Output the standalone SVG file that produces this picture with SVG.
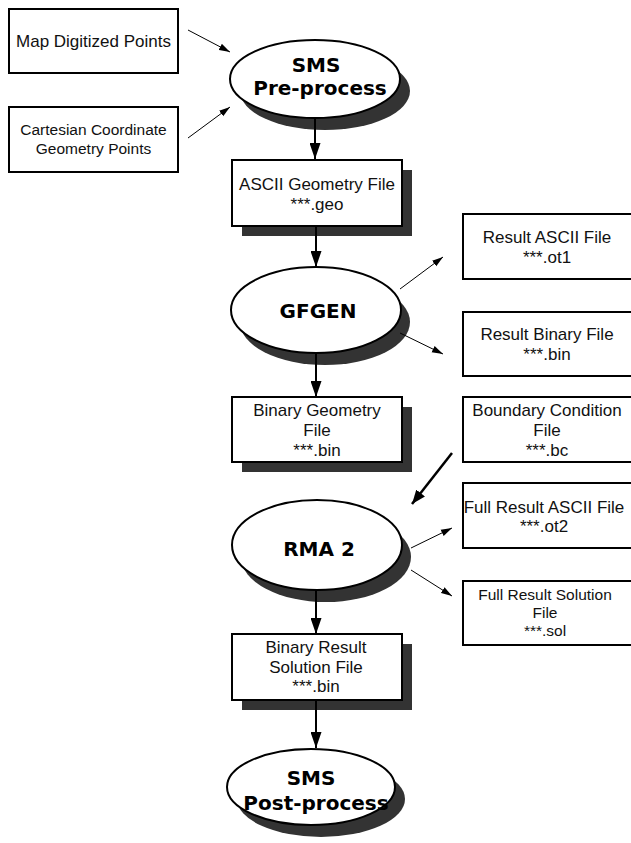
<svg xmlns="http://www.w3.org/2000/svg" width="631" height="843" viewBox="0 0 631 843">
<style>
.box{fill:#fff;stroke:#000;stroke-width:2}
.sh{fill:#333}
.el{fill:#fff;stroke:#000;stroke-width:2}
.t{font-family:"Liberation Sans",Arial,sans-serif;font-size:17px;fill:#111;text-anchor:middle}
.ts{font-size:15.5px}
.b{font-family:"DejaVu Sans","Liberation Sans",sans-serif;font-weight:bold;font-size:20px;fill:#000;text-anchor:middle}
.thin{stroke:#000;stroke-width:1;fill:none;marker-end:url(#ah)}
.v{stroke:#000;stroke-width:2;fill:none;marker-end:url(#av)}
.thick{stroke:#000;stroke-width:2.5;fill:none;marker-end:url(#at)}
</style>
<defs>
<marker id="ah" markerUnits="userSpaceOnUse" markerWidth="12" markerHeight="8" refX="11" refY="4" orient="auto"><path d="M0,0.5 L11,4 L0,7.5 Z" fill="#000"/></marker>
<marker id="av" markerUnits="userSpaceOnUse" markerWidth="17" markerHeight="11" refX="16" refY="5.5" orient="auto"><path d="M0,0 L16,5.5 L0,11 Z" fill="#000"/></marker>
<marker id="at" markerUnits="userSpaceOnUse" markerWidth="15" markerHeight="11" refX="14" refY="5.5" orient="auto"><path d="M0,0 L14,5.5 L0,11 Z" fill="#000"/></marker>
</defs>

<g id="map">
<rect class="box" x="9" y="9" width="169" height="64"/>
<text class="t" x="93.5" y="47">Map Digitized Points</text>
</g>
<g id="cartesian">
<rect class="box" x="9" y="107" width="169" height="65"/>
<text class="t ts" x="93.5" y="135">Cartesian Coordinate</text>
<text class="t ts" x="93.5" y="154">Geometry Points</text>
</g>
<g id="sms-pre">
<ellipse class="sh" cx="325" cy="91" rx="85" ry="39"/>
<ellipse class="el" cx="315" cy="79" rx="85" ry="39"/>
<text class="b" x="316" y="72">SMS</text>
<text class="b" x="320" y="95">Pre-process</text>
</g>
<g id="ascii-geo">
<rect class="sh" x="242" y="170" width="170" height="66"/>
<rect class="box" x="232" y="160" width="170" height="66"/>
<text class="t" x="317" y="190">ASCII Geometry File</text>
<text class="t" x="317" y="210">***.geo</text>
</g>
<g id="gfgen">
<ellipse class="sh" cx="325" cy="322" rx="85" ry="43"/>
<ellipse class="el" cx="316" cy="310" rx="85" ry="43"/>
<text class="b" x="318" y="318">GFGEN</text>
</g>
<g id="result-ascii">
<rect class="box" x="463" y="214" width="172" height="65"/>
<text class="t" x="547" y="243">Result ASCII File</text>
<text class="t" x="547" y="263">***.ot1</text>
</g>
<g id="result-binary">
<rect class="box" x="463" y="312" width="172" height="64"/>
<text class="t" x="547" y="340">Result Binary File</text>
<text class="t" x="547" y="360">***.bin</text>
</g>
<g id="binary-geo">
<rect class="sh" x="242" y="407" width="170" height="65"/>
<rect class="box" x="232" y="397" width="170" height="65"/>
<text class="t" x="317" y="416">Binary Geometry</text>
<text class="t" x="317" y="436">File</text>
<text class="t" x="317" y="456">***.bin</text>
</g>
<g id="boundary">
<rect class="box" x="463" y="397" width="172" height="65"/>
<text class="t" x="547" y="416">Boundary Condition</text>
<text class="t" x="547" y="436">File</text>
<text class="t" x="547" y="456">***.bc</text>
</g>
<g id="full-ascii">
<rect class="box" x="463" y="483" width="172" height="65"/>
<text class="t" x="544" y="513">Full Result ASCII File</text>
<text class="t" x="544" y="532">***.ot2</text>
</g>
<g id="rma2">
<ellipse class="sh" cx="326" cy="557" rx="85" ry="45"/>
<ellipse class="el" cx="317" cy="545" rx="85" ry="45"/>
<text class="b" x="319" y="556">RMA 2</text>
</g>
<g id="full-solution">
<rect class="box" x="463" y="581" width="172" height="64"/>
<text class="t ts" x="545" y="600">Full Result Solution</text>
<text class="t ts" x="545" y="618">File</text>
<text class="t ts" x="545" y="636">***.sol</text>
</g>
<g id="binary-result">
<rect class="sh" x="242" y="644" width="170" height="66"/>
<rect class="box" x="232" y="634" width="170" height="66"/>
<text class="t" x="316" y="653">Binary Result</text>
<text class="t" x="316" y="673">Solution File</text>
<text class="t" x="316" y="692">***.bin</text>
</g>
<g id="sms-post">
<ellipse class="sh" cx="321" cy="799" rx="84" ry="38"/>
<ellipse class="el" cx="311" cy="787" rx="84" ry="38"/>
<text class="b" x="311" y="785">SMS</text>
<text class="b" x="316" y="810">Post-process</text>
</g>

<g id="connectors">
<path class="thin" d="M188,30 L230,52"/>
<path class="thin" d="M188,138 L230,107"/>
<path class="v" d="M315,118 L315,159"/>
<path class="v" d="M316,226 L316,267"/>
<path class="thin" d="M400,289 L443,257"/>
<path class="thin" d="M400,333 L443,354"/>
<path class="v" d="M316,353 L316,397"/>
<path class="thick" d="M452,453 L412,504"/>
<path class="thin" d="M411,548 L452,528"/>
<path class="thin" d="M411,570 L452,596"/>
<path class="v" d="M316,590 L316,634"/>
<path class="v" d="M316,700 L316,748"/>
</g>
</svg>
